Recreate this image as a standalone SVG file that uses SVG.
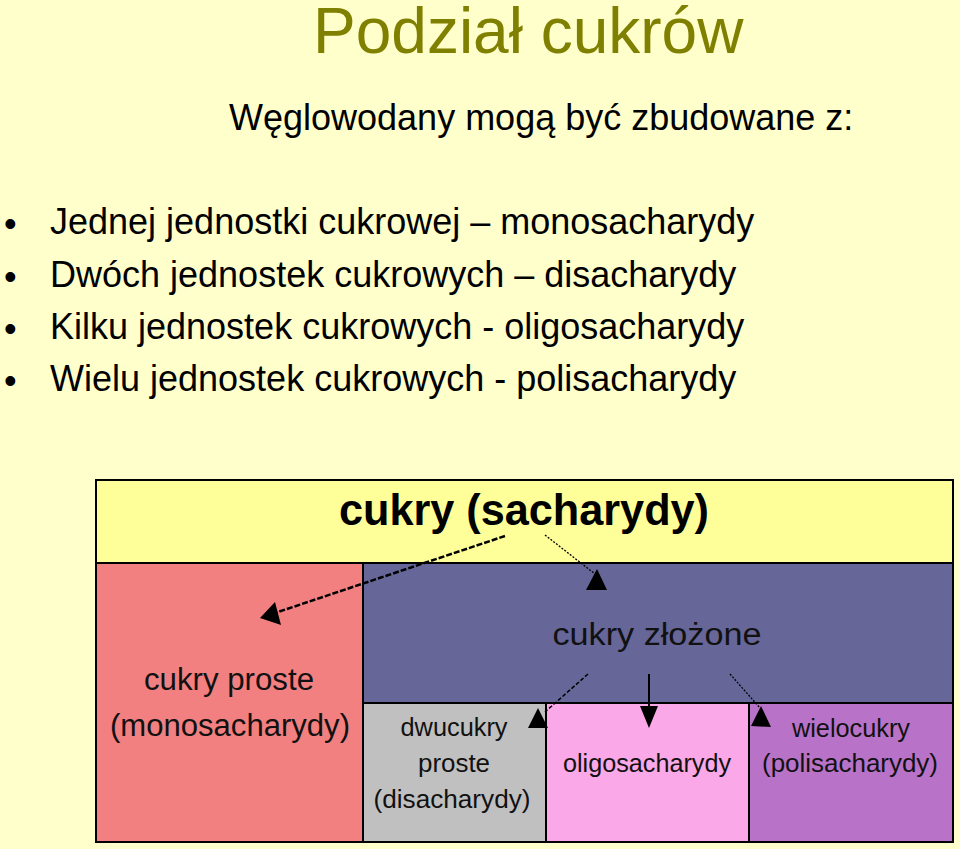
<svg xmlns="http://www.w3.org/2000/svg" width="960" height="849" viewBox="0 0 960 849">
<style>
.title{font-family:"Liberation Sans",Arial,sans-serif;font-size:64px;fill:#808000}
.body{font-family:"Liberation Sans",Arial,sans-serif;font-size:36px;fill:#000}
.hdr{font-family:"Liberation Sans",Arial,sans-serif;font-size:45px;font-weight:bold;fill:#000}
.mid{font-family:"Liberation Sans",Arial,sans-serif;font-size:31px;fill:#111}
.sm{font-family:"Liberation Sans",Arial,sans-serif;font-size:26px;fill:#111}
.box{stroke:#000;stroke-width:2}
.ah{fill:#000}
</style>
<rect x="0" y="0" width="960" height="849" fill="#FFFFCC"/>
<text class="title" x="313" y="53">Podział cukrów</text>
<text class="body" x="229" y="130">Węglowodany mogą być zbudowane z:</text>
<g id="bullets">
<text class="body" x="4" y="236">•</text>
<text class="body" x="50" y="234">Jednej jednostki cukrowej – monosacharydy</text>
<text class="body" x="4" y="289">•</text>
<text class="body" x="50" y="287">Dwóch jednostek cukrowych – disacharydy</text>
<text class="body" x="4" y="341">•</text>
<text class="body" x="50" y="339">Kilku jednostek cukrowych - oligosacharydy</text>
<text class="body" x="4" y="393">•</text>
<text class="body" x="50" y="391">Wielu jednostek cukrowych - polisacharydy</text>
</g>
<g id="n-cukry">
<rect class="box" x="96" y="480" width="857" height="83" fill="#FFFF99"/>
<text class="hdr" x="524" y="525" text-anchor="middle" textLength="370" lengthAdjust="spacingAndGlyphs">cukry (sacharydy)</text>
</g>
<g id="n-proste">
<rect class="box" x="96" y="563" width="267" height="279" fill="#F28080"/>
<text class="mid" x="229" y="690" text-anchor="middle" textLength="170" lengthAdjust="spacingAndGlyphs">cukry proste</text>
<text class="mid" x="230" y="736" text-anchor="middle" textLength="240" lengthAdjust="spacingAndGlyphs">(monosacharydy)</text>
</g>
<g id="n-zlozone">
<rect class="box" x="363" y="563" width="590" height="140" fill="#666699"/>
<text class="mid" x="657" y="645" text-anchor="middle" font-size="32" textLength="209" lengthAdjust="spacingAndGlyphs">cukry złożone</text>
</g>
<g id="n-dwucukry">
<rect class="box" x="363" y="703" width="183" height="139" fill="#C0C0C0"/>
<text class="sm" x="454" y="736" text-anchor="middle" textLength="107" lengthAdjust="spacingAndGlyphs">dwucukry</text>
<text class="sm" x="454" y="772" text-anchor="middle" textLength="72" lengthAdjust="spacingAndGlyphs">proste</text>
<text class="sm" x="452" y="808" text-anchor="middle" textLength="157" lengthAdjust="spacingAndGlyphs">(disacharydy)</text>
</g>
<g id="n-oligo">
<rect class="box" x="546" y="703" width="203" height="139" fill="#FBA8E8"/>
<text class="sm" x="647" y="772" text-anchor="middle" textLength="168" lengthAdjust="spacingAndGlyphs">oligosacharydy</text>
</g>
<g id="n-wielo">
<rect class="box" x="749" y="703" width="204" height="139" fill="#B873C8"/>
<text class="sm" x="851" y="737" text-anchor="middle" textLength="118" lengthAdjust="spacingAndGlyphs">wielocukry</text>
<text class="sm" x="850" y="772" text-anchor="middle" textLength="176" lengthAdjust="spacingAndGlyphs">(polisacharydy)</text>
</g>
<g id="connectors">
<line x1="505" y1="536" x2="272" y2="614" stroke="#000" stroke-width="2.5" stroke-dasharray="6 2"/>
<polygon class="ah" points="260,618 275,602 281,625"/>
<line x1="545" y1="535" x2="595" y2="574" stroke="#000" stroke-width="1.3" stroke-dasharray="2 1.5"/>
<polygon class="ah" points="597,569 586,590 607,590"/>
<line x1="588" y1="674" x2="545" y2="712" stroke="#000" stroke-width="1.5" stroke-dasharray="4 2"/>
<polygon class="ah" points="538,708 528,728 548,728"/>
<line x1="649" y1="674" x2="649" y2="710" stroke="#000" stroke-width="2"/>
<polygon class="ah" points="640,706 658,706 649,728"/>
<line x1="730" y1="674" x2="760" y2="708" stroke="#000" stroke-width="1.3" stroke-dasharray="2 1.5"/>
<polygon class="ah" points="761,706 751,726 771,727"/>
</g>
</svg>
